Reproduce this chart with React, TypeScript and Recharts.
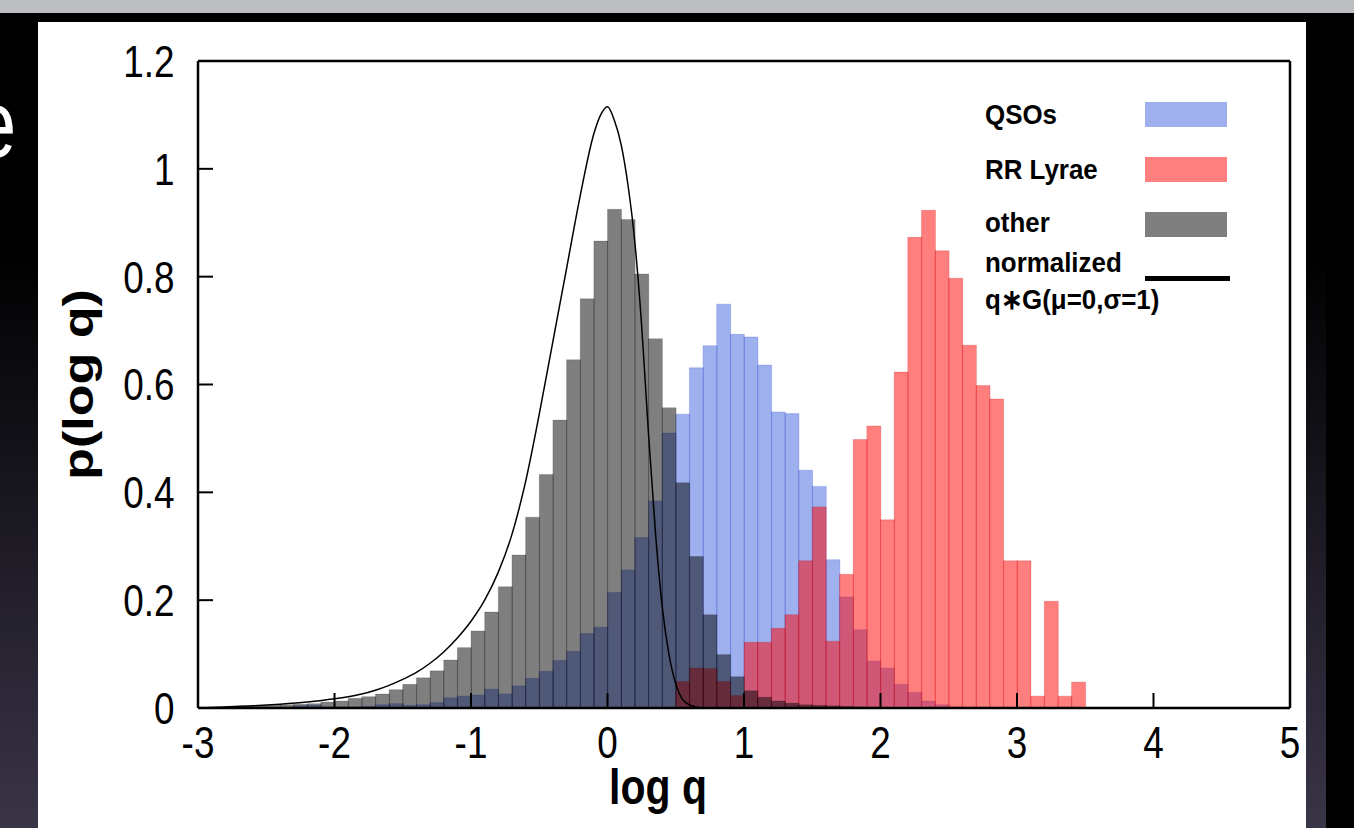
import { Bar, ComposedChart, Label, Legend, Line, XAxis, YAxis } from 'recharts';

// bin starts, width 0.1 in log q
const BIN_STARTS = [
  '-3.0', '-2.9', '-2.8', '-2.7', '-2.6', '-2.5', '-2.4', '-2.3', '-2.2', '-2.1',
  '-2.0', '-1.9', '-1.8', '-1.7', '-1.6', '-1.5', '-1.4', '-1.3', '-1.2', '-1.1',
  '-1.0', '-0.9', '-0.8', '-0.7', '-0.6', '-0.5', '-0.4', '-0.3', '-0.2', '-0.1',
  '0.0', '0.1', '0.2', '0.3', '0.4', '0.5', '0.6', '0.7', '0.8', '0.9',
  '1.0', '1.1', '1.2', '1.3', '1.4', '1.5', '1.6', '1.7', '1.8', '1.9',
  '2.0', '2.1', '2.2', '2.3', '2.4', '2.5', '2.6', '2.7', '2.8', '2.9',
  '3.0', '3.1', '3.2', '3.3', '3.4', '3.5', '3.6', '3.7', '3.8', '3.9',
  '4.0', '4.1', '4.2', '4.3', '4.4', '4.5', '4.6', '4.7', '4.8', '4.9',
];

const QSO_VALUES = [
  0, 0, 0, 0, 0, 0, 0, 0.004, 0.005, 0.002,
  0.002, 0.002, 0.003, 0.006, 0.008, 0.005, 0.006, 0.01, 0.019, 0.022,
  0.024, 0.035, 0.026, 0.041, 0.055, 0.068, 0.088, 0.105, 0.138, 0.15,
  0.214, 0.256, 0.316, 0.384, 0.51, 0.545, 0.631, 0.672, 0.749, 0.693,
  0.688, 0.636, 0.549, 0.546, 0.441, 0.411, 0.275, 0.206, 0.145, 0.087,
  0.074, 0.044, 0.029, 0.013, 0.006, 0.002, 0, 0, 0, 0,
  0, 0, 0, 0, 0, 0, 0, 0, 0, 0,
  0, 0, 0, 0, 0, 0, 0, 0, 0, 0,
];

const RR_VALUES = [
  0, 0, 0, 0, 0, 0, 0, 0, 0, 0,
  0, 0, 0, 0, 0, 0, 0, 0, 0, 0,
  0, 0, 0, 0, 0, 0, 0, 0, 0, 0,
  0, 0, 0, 0, 0, 0.049, 0.074, 0.073, 0.049, 0.023,
  0.122, 0.122, 0.148, 0.173, 0.273, 0.373, 0.124, 0.248, 0.498, 0.523,
  0.349, 0.623, 0.873, 0.923, 0.848, 0.797, 0.673, 0.598, 0.573, 0.273,
  0.273, 0.022, 0.198, 0.022, 0.048, 0, 0, 0, 0, 0,
  0, 0, 0, 0, 0, 0, 0, 0, 0, 0,
];

const OTHER_VALUES = [
  0.002, 0.002, 0.003, 0.004, 0.004, 0.005, 0.006, 0.007, 0.008, 0.011,
  0.013, 0.018, 0.021, 0.026, 0.034, 0.044, 0.056, 0.069, 0.089, 0.112,
  0.143, 0.178, 0.225, 0.284, 0.354, 0.433, 0.534, 0.646, 0.759, 0.866,
  0.925, 0.906, 0.805, 0.685, 0.557, 0.418, 0.281, 0.173, 0.099, 0.058,
  0.032, 0.02, 0.013, 0.009, 0.006, 0.005, 0.004, 0.003, 0.002, 0.001,
  0, 0, 0, 0, 0, 0, 0, 0, 0, 0,
  0, 0, 0, 0, 0, 0, 0, 0, 0, 0,
  0, 0, 0, 0, 0, 0, 0, 0, 0, 0,
];

// normalized q*G(mu=0, sigma=1)
const CURVE_X = [
  -3.0, -2.8, -2.6, -2.4, -2.2, -2.0, -1.9, -1.8, -1.7, -1.6, -1.5, -1.4, -1.3, -1.2, -1.1,
  -1.0, -0.9, -0.8, -0.7, -0.6, -0.5, -0.4, -0.3, -0.2, -0.1, -0.05, 0, 0.05, 0.1, 0.15,
  0.2, 0.25, 0.3, 0.35, 0.4, 0.45, 0.5, 0.55, 0.6, 0.65, 0.7, 0.8, 1.0, 2.0, 3.0, 4.0, 5.0,
];
const CURVE_Y = [
  0, 0.002, 0.004, 0.007, 0.011, 0.017, 0.021, 0.026, 0.033, 0.042, 0.053, 0.066, 0.083, 0.104, 0.13,
  0.161, 0.2, 0.252, 0.322, 0.42, 0.545, 0.68, 0.815, 0.95, 1.065, 1.1, 1.115, 1.09, 1.045, 0.97,
  0.865, 0.71, 0.51, 0.33, 0.19, 0.1, 0.045, 0.016, 0.006, 0.002, 0, 0, 0, 0, 0, 0, 0,
];

const X_TICKS = [-3, -2, -1, 0, 1, 2, 3, 4, 5];
const Y_TICKS = [0, 0.2, 0.4, 0.6, 0.8, 1, 1.2];

const SERIES_NAMES = ['QSOs', 'RR Lyrae', 'other', 'normalized q∗G(μ=0,σ=1)'];

const histData = BIN_STARTS.map((bin, i) => ({
  bin,
  qso: QSO_VALUES[i],
  rr: RR_VALUES[i],
  other: OTHER_VALUES[i],
}));

const curveData = CURVE_X.map((x, i) => ({ x, y: CURVE_Y[i] }));

const FONT = "'Liberation Sans', Arial, Helvetica, sans-serif";
// the slide squeezes the figure horizontally
const SQUEEZE = 0.82;

const axisLine = { stroke: '#000', strokeWidth: 2.5 };
const tickLine = { stroke: '#000', strokeWidth: 2 };

const NarrowTick = ({ x, y, payload, textAnchor, orientation }: any) => (
  <text
    transform={`translate(${x},${y}) scale(${SQUEEZE},1)`}
    textAnchor={textAnchor}
    dy={orientation === 'bottom' ? '0.71em' : '0.355em'}
    fontFamily={FONT}
    fontSize={45}
    fill="#000"
  >
    {String(payload.value)}
  </text>
);

const XTitle = ({ viewBox, value }: any) => (
  <text
    transform={`translate(${viewBox.x + viewBox.width / 2 - 86},${viewBox.y + 96}) scale(${SQUEEZE},1)`}
    textAnchor="middle"
    fontFamily={FONT}
    fontWeight={700}
    fontSize={50}
    fill="#000"
  >
    {value}
  </text>
);

const YTitle = ({ viewBox, value }: any) => (
  <text
    transform={`translate(${viewBox.x + 55},${viewBox.y + viewBox.height / 2}) scale(${SQUEEZE},1) rotate(-90)`}
    textAnchor="middle"
    fontFamily={FONT}
    fontWeight={700}
    fontSize={52}
    fill="#000"
  >
    {value}
  </text>
);

const TEXT_TOPS = [1, 56, 109, 149];
const SWATCH_TOPS = [2, 57, 112];

const LegendBox = ({ payload }: { payload?: Array<{ value: string; color: string; type: string }> }) => {
  if (!payload) return null;
  const textStyle = {
    position: 'absolute' as const,
    left: 0,
    fontFamily: FONT,
    fontWeight: 700,
    fontSize: 28,
    lineHeight: '28px',
    color: '#000',
    whiteSpace: 'nowrap' as const,
    transform: 'scaleX(0.925)',
    transformOrigin: 'left',
  };
  return (
    <div style={{ position: 'relative', width: 260, height: 230 }}>
      {payload.map(entry => {
        const row = SERIES_NAMES.indexOf(entry.value);
        const isLine = entry.type === 'line';
        const cut = entry.value.indexOf(' ');
        const parts = isLine ? [entry.value.slice(0, cut), entry.value.slice(cut + 1)] : [entry.value];
        return (
          <div key={entry.value}>
            <div style={{ ...textStyle, top: TEXT_TOPS[row] }}>{parts[0]}</div>
            {parts[1] && <div style={{ ...textStyle, top: TEXT_TOPS[row] + 37 }}>{parts[1]}</div>}
            {isLine ? (
              <div style={{ position: 'absolute', left: 160, top: 176, width: 85, height: 5, background: '#000' }} />
            ) : (
              <div
                style={{
                  position: 'absolute',
                  left: 160,
                  top: SWATCH_TOPS[row],
                  width: 82,
                  height: 25,
                  background: entry.color,
                  opacity: 0.5,
                }}
              />
            )}
          </div>
        );
      })}
    </div>
  );
};

export default function App() {
  return (
    <div
      style={{
        position: 'absolute',
        left: 0,
        top: 0,
        width: 1354,
        height: 828,
        overflow: 'hidden',
        background: 'linear-gradient(to bottom, #000 0%, #000 30%, #3a3448 100%)',
      }}
    >
      <div style={{ position: 'absolute', left: 0, top: 0, width: 1354, height: 13, background: '#bdbec2' }} />
      <div style={{ position: 'absolute', left: 1326, top: 13, width: 28, height: 815, background: '#000' }} />
      <div
        style={{
          position: 'absolute',
          left: -37,
          top: 76,
          fontFamily: FONT,
          fontSize: 96,
          lineHeight: '96px',
          color: '#fff',
          transform: `scaleX(${SQUEEZE})`,
          transformOrigin: 'right',
        }}
      >
        e
      </div>
      <div style={{ position: 'absolute', left: 38, top: 22, width: 1268, height: 806, background: '#fff' }}>
        <ComposedChart
          width={1268}
          height={806}
          data={histData}
          margin={{ top: 39, right: 16, bottom: 0, left: 0 }}
          barCategoryGap={0}
          barGap={0}
        >
          <XAxis xAxisId="q" dataKey="bin" type="category" hide />
          <XAxis xAxisId="r" dataKey="bin" type="category" hide />
          <XAxis xAxisId="o" dataKey="bin" type="category" hide />
          <XAxis
            xAxisId="num"
            dataKey="x"
            type="number"
            domain={[-3, 5]}
            ticks={X_TICKS}
            interval={0}
            allowDataOverflow
            height={120}
            tickSize={-15}
            tickMargin={33.5}
            axisLine={axisLine}
            tickLine={tickLine}
            tick={<NarrowTick />}
          >
            <Label value="log q" content={<XTitle />} />
          </XAxis>
          <XAxis
            xAxisId="top"
            orientation="top"
            type="number"
            domain={[-3, 5]}
            ticks={X_TICKS}
            interval={0}
            allowDataOverflow
            mirror
            tick={false}
            tickSize={15}
            axisLine={axisLine}
            tickLine={tickLine}
          />
          <YAxis
            domain={[0, 1.2]}
            ticks={Y_TICKS}
            interval={0}
            allowDataOverflow
            width={160}
            tickSize={-15}
            tickMargin={38.5}
            axisLine={axisLine}
            tickLine={tickLine}
            tick={<NarrowTick />}
          >
            <Label value="p(log q)" content={<YTitle />} />
          </YAxis>
          <YAxis
            yAxisId="right"
            orientation="right"
            domain={[0, 1.2]}
            ticks={Y_TICKS}
            interval={0}
            allowDataOverflow
            mirror
            tick={false}
            tickSize={15}
            axisLine={axisLine}
            tickLine={tickLine}
          />
          <Legend
            layout="horizontal"
            align="center"
            verticalAlign="middle"
            wrapperStyle={{ left: 947, top: 78, width: 260 }}
            content={<LegendBox />}
          />
          <Bar
            xAxisId="q"
            dataKey="qso"
            name={SERIES_NAMES[0]}
            fill="#3f61dd"
            fillOpacity={0.5}
            stroke="#3f61dd"
            strokeOpacity={0.25}
            strokeWidth={1}
            isAnimationActive={false}
          />
          <Bar
            xAxisId="r"
            dataKey="rr"
            name={SERIES_NAMES[1]}
            fill="#ff0000"
            fillOpacity={0.5}
            stroke="#c00000"
            strokeOpacity={0.2}
            strokeWidth={1}
            isAnimationActive={false}
          />
          <Bar
            xAxisId="o"
            dataKey="other"
            name={SERIES_NAMES[2]}
            fill="#000000"
            fillOpacity={0.5}
            stroke="#000000"
            strokeOpacity={0.15}
            strokeWidth={1}
            isAnimationActive={false}
          />
          <Line
            xAxisId="num"
            data={curveData}
            dataKey="y"
            name={SERIES_NAMES[3]}
            type="monotone"
            stroke="#000"
            strokeWidth={1.5}
            dot={false}
            activeDot={false}
            isAnimationActive={false}
          />
        </ComposedChart>
      </div>
    </div>
  );
}
